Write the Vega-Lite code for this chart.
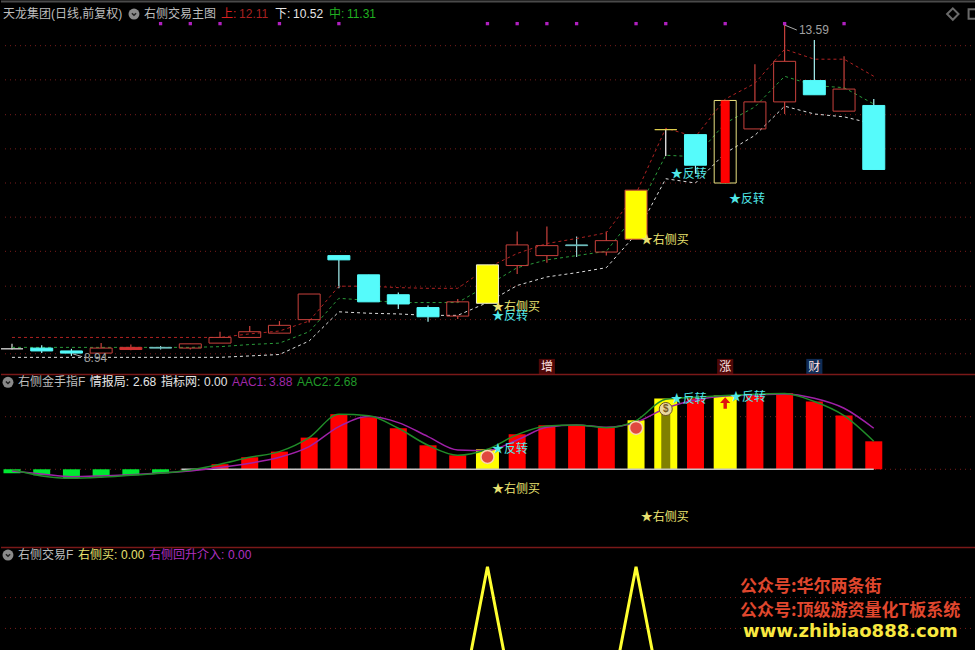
{
"$schema":"https://vega.github.io/schema/vega-lite/v6.json",
"background":"#000000","padding":0,"spacing":0,"bounds":"flush","autosize":{"type":"pad"},
"config":{"view":{"stroke":null},"concat":{"spacing":0}},
"datasets":{
"bars":[
{"i":0,"o":9.04,"h":9.11,"l":9.03,"c":9.04,"k":"doji","u":9.2,"m":9.06,"d":8.92,"hist":-0.38,"a1":-0.16,"a2":-0.03,"hk":"g","sig":0},
{"i":1,"o":9.05,"h":9.09,"l":8.98,"c":9.01,"k":"down","u":9.2,"m":9.06,"d":8.92,"hist":-0.57,"a1":-0.44,"a2":-0.63,"hk":"g","sig":0},
{"i":2,"o":9.01,"h":9.04,"l":8.94,"c":8.98,"k":"down","u":9.2,"m":9.06,"d":8.92,"hist":-0.83,"a1":-0.7,"a2":-0.86,"hk":"g","sig":0},
{"i":3,"o":8.98,"h":9.12,"l":8.98,"c":9.05,"k":"up","u":9.2,"m":9.06,"d":8.92,"hist":-0.67,"a1":-0.63,"a2":-0.76,"hk":"g","sig":0},
{"i":4,"o":9.03,"h":9.1,"l":9.02,"c":9.06,"k":"upsolid","u":9.2,"m":9.06,"d":8.92,"hist":-0.57,"a1":-0.51,"a2":-0.57,"hk":"g","sig":0},
{"i":5,"o":9.06,"h":9.08,"l":9.03,"c":9.05,"k":"dojic","u":9.2,"m":9.06,"d":8.92,"hist":-0.38,"a1":-0.35,"a2":-0.38,"hk":"g","sig":0},
{"i":6,"o":9.05,"h":9.11,"l":9.03,"c":9.11,"k":"up","u":9.2,"m":9.06,"d":8.92,"hist":-0.1,"a1":-0.16,"a2":-0.06,"hk":"g","sig":0},
{"i":7,"o":9.12,"h":9.28,"l":9.12,"c":9.2,"k":"up","u":9.2,"m":9.07,"d":8.92,"hist":0.48,"a1":0.16,"a2":0.48,"hk":"r","sig":0},
{"i":8,"o":9.2,"h":9.36,"l":9.2,"c":9.28,"k":"up","u":9.25,"m":9.1,"d":8.94,"hist":1.14,"a1":0.57,"a2":1.14,"hk":"r","sig":0},
{"i":9,"o":9.26,"h":9.43,"l":9.26,"c":9.37,"k":"up","u":9.29,"m":9.12,"d":8.96,"hist":1.68,"a1":1.14,"a2":1.68,"hk":"r","sig":0},
{"i":10,"o":9.45,"h":9.81,"l":9.41,"c":9.81,"k":"up","u":9.43,"m":9.28,"d":9.15,"hist":3.01,"a1":2.16,"a2":3.01,"hk":"r","sig":0},
{"i":11,"o":10.35,"h":10.35,"l":9.89,"c":10.29,"k":"down","u":9.92,"m":9.75,"d":9.56,"hist":5.23,"a1":4.06,"a2":5.23,"hk":"r","sig":0},
{"i":12,"o":10.08,"h":10.08,"l":9.7,"c":9.7,"k":"down","u":9.92,"m":9.72,"d":9.54,"hist":4.95,"a1":5.01,"a2":5.1,"hk":"r","sig":0},
{"i":13,"o":9.8,"h":9.83,"l":9.6,"c":9.67,"k":"down","u":9.9,"m":9.69,"d":9.53,"hist":3.9,"a1":4.44,"a2":3.9,"hk":"r","sig":0},
{"i":14,"o":9.62,"h":9.65,"l":9.42,"c":9.49,"k":"down","u":9.89,"m":9.69,"d":9.51,"hist":2.28,"a1":3.11,"a2":2.28,"hk":"r","sig":0},
{"i":15,"o":9.5,"h":9.74,"l":9.46,"c":9.7,"k":"up","u":9.89,"m":9.69,"d":9.51,"hist":1.33,"a1":1.84,"a2":1.33,"hk":"r","sig":0},
{"i":16,"o":9.68,"h":10.22,"l":9.68,"c":10.22,"k":"yellow","u":10.18,"m":9.93,"d":9.69,"hist":1.9,"a1":1.78,"a2":1.9,"hk":"yw","sig":1},
{"i":17,"o":10.21,"h":10.69,"l":10.09,"c":10.5,"k":"up","u":10.38,"m":10.18,"d":9.93,"hist":3.33,"a1":2.79,"a2":3.3,"hk":"r","sig":0},
{"i":18,"o":10.35,"h":10.76,"l":10.25,"c":10.49,"k":"up","u":10.52,"m":10.29,"d":10.05,"hist":4.18,"a1":3.99,"a2":4.12,"hk":"r","sig":0},
{"i":19,"o":10.5,"h":10.62,"l":10.33,"c":10.49,"k":"dojic","u":10.59,"m":10.35,"d":10.11,"hist":4.18,"a1":4.22,"a2":4.22,"hk":"r","sig":0},
{"i":20,"o":10.4,"h":10.69,"l":10.35,"c":10.56,"k":"up","u":10.67,"m":10.41,"d":10.18,"hist":3.97,"a1":3.99,"a2":3.96,"hk":"r","sig":0},
{"i":21,"o":10.58,"h":11.27,"l":10.58,"c":11.27,"k":"yellowr","u":11.22,"m":10.94,"d":10.65,"hist":4.66,"a1":4.47,"a2":4.63,"hk":"y","sig":1},
{"i":22,"o":12.12,"h":12.12,"l":11.75,"c":12.12,"k":"dojiy","u":12.14,"m":11.76,"d":11.43,"hist":6.72,"a1":5.8,"a2":6.66,"hk":"yw","sig":0},
{"i":23,"o":12.05,"h":12.05,"l":11.5,"c":11.62,"k":"down","u":12.02,"m":11.74,"d":11.37,"hist":6.75,"a1":6.59,"a2":6.85,"hk":"r","sig":0},
{"i":24,"o":11.37,"h":12.53,"l":11.37,"c":12.53,"k":"hold","u":12.55,"m":12.21,"d":11.79,"hist":7.01,"a1":6.97,"a2":7.01,"hk":"yw","sig":0},
{"i":25,"o":12.13,"h":13.04,"l":12.13,"c":12.51,"k":"up","u":12.77,"m":12.44,"d":12.04,"hist":7.04,"a1":7.07,"a2":7.13,"hk":"r","sig":0},
{"i":26,"o":12.51,"h":13.59,"l":12.34,"c":13.08,"k":"up","u":13.25,"m":12.87,"d":12.45,"hist":7.23,"a1":7.16,"a2":7.2,"hk":"r","sig":0},
{"i":27,"o":12.81,"h":13.38,"l":12.61,"c":12.61,"k":"down","u":13.11,"m":12.74,"d":12.34,"hist":6.44,"a1":6.75,"a2":6.44,"hk":"r","sig":0},
{"i":28,"o":12.38,"h":13.15,"l":12.38,"c":12.69,"k":"up","u":13.11,"m":12.71,"d":12.3,"hist":5.11,"a1":5.8,"a2":5.1,"hk":"r","sig":0},
{"i":29,"o":12.46,"h":12.55,"l":11.56,"c":11.56,"k":"down","u":12.87,"m":12.48,"d":12.2,"hist":2.66,"a1":3.9,"a2":2.66,"hk":"r","sig":0}
],
"topText":[
{"i":-0.303,"p":13.745,"t":"天龙集团(日线,前复权)","r":"gray"},
{"i":4.44,"p":13.745,"t":"右侧交易主图","r":"gray"},
{"i":7.03,"p":13.745,"t":"上:","r":"red"},
{"i":7.64,"p":13.745,"t":"12.11","r":"dred"},
{"i":8.85,"p":13.745,"t":"下:","r":"white"},
{"i":9.46,"p":13.745,"t":"10.52","r":"white"},
{"i":10.67,"p":13.745,"t":"中:","r":"green"},
{"i":11.27,"p":13.745,"t":"11.31","r":"green"},
{"i":16.15,"p":9.63,"t":"★右侧买","r":"yellow"},
{"i":16.15,"p":9.5,"t":"★反转","r":"cyan"},
{"i":21.16,"p":10.57,"t":"★右侧买","r":"yellow"},
{"i":22.17,"p":11.5,"t":"★反转","r":"cyan"},
{"i":24.13,"p":11.15,"t":"★反转","r":"cyan"},
{"i":26.48,"p":13.52,"t":"13.59","r":"dim"},
{"i":2.42,"p":8.91,"t":"8.94","r":"dim"}
],
"markers":[{"i":5},{"i":6},{"i":7},{"i":9},{"i":11},{"i":16},{"i":17},{"i":18},{"i":19},{"i":21},{"i":22},{"i":24},{"i":26},{"i":28}],
"tags":[{"i":18,"t":"增","r":"red"},{"i":24,"t":"涨","r":"red"},{"i":27,"t":"财","r":"blue"}],
"leaders":[{"s":"hi","i":26,"p":13.59},{"s":"hi","i":26.41,"p":13.52},{"s":"lo","i":2.04,"p":8.97},{"s":"lo","i":2.36,"p":8.93}],
"midText":[
{"i":0.2,"p":8.27,"t":"右侧金手指F","r":"gray"},
{"i":2.62,"p":8.27,"t":"情报局:","r":"white"},
{"i":4.07,"p":8.27,"t":"2.68","r":"white"},
{"i":5.01,"p":8.27,"t":"指标网:","r":"white"},
{"i":6.46,"p":8.27,"t":"0.00","r":"white"},
{"i":7.4,"p":8.27,"t":"AAC1:","r":"purple"},
{"i":8.65,"p":8.27,"t":"3.88","r":"purple"},
{"i":9.59,"p":8.27,"t":"AAC2:","r":"green2"},
{"i":10.83,"p":8.27,"t":"2.68","r":"green2"},
{"i":16.15,"p":1.9,"t":"★反转","r":"cyan"},
{"i":22.17,"p":6.69,"t":"★反转","r":"cyan"},
{"i":24.16,"p":6.88,"t":"★反转","r":"cyan"},
{"i":16.15,"p":-1.84,"t":"★右侧买","r":"yellow"},
{"i":21.16,"p":-4.51,"t":"★右侧买","r":"yellow"}
],
"botText":[
{"i":0.2,"p":1.076,"t":"右侧交易F","r":"gray"},
{"i":2.22,"p":1.076,"t":"右侧买:","r":"yellow"},
{"i":3.67,"p":1.076,"t":"0.00","r":"yellow"},
{"i":4.61,"p":1.076,"t":"右侧回升介入:","r":"magenta"},
{"i":7.27,"p":1.076,"t":"0.00","r":"magenta"}
],
"marks":[
{"i":24.5,"p":0.868,"t":"公众号:华尔两条街","r":"orange"},
{"i":24.5,"p":0.713,"t":"公众号:顶级游资量化T板系统","r":"orange"}
]
},
"vconcat":[
{"width":975,"height":374,
"resolve":{"scale":{"color":"independent","fill":"independent","stroke":"independent"}},
"layer":[
{"data":{"values":[{"g":13.3},{"g":12.82},{"g":12.33},{"g":11.85},{"g":11.37},{"g":10.89},{"g":10.41},{"g":9.92},{"g":9.45},{"g":8.97}]},
 "mark":{"type":"rule","color":"#7a1c1c","strokeWidth":1,"strokeDash":[1,4]},
 "encoding":{"y":{"field":"g","type":"quantitative","scale":{"domain":[8.686,13.942],"nice":false,"zero":false},"axis":null}}},
{"data":{"values":[{"g":13.92}]},"mark":{"type":"rule","color":"#4a4a4a","strokeWidth":2},
 "encoding":{"y":{"field":"g","type":"quantitative","scale":{"domain":[8.686,13.942],"nice":false,"zero":false},"axis":null}}},
{"data":{"name":"bars"},"mark":{"type":"rule","strokeWidth":1.2},
 "encoding":{"x":{"field":"i","type":"quantitative","scale":{"domain":[-0.37,32.44],"nice":false,"zero":false,"padding":0},"axis":null},
  "y":{"field":"l","type":"quantitative","scale":{"domain":[8.686,13.942],"nice":false,"zero":false},"axis":null},"y2":{"field":"h"},
  "color":{"field":"k","type":"nominal","legend":null,"scale":{"domain":["up","upsolid","down","yellow","yellowr","hold","doji","dojic","dojiy"],"range":["#c8413c","#c8413c","#a8f4f4","#c8413c","#c8413c","#e8e080","#e0e0e0","#9ad0d0","#ffffff"]}}}},
{"data":{"name":"bars"},"mark":{"type":"bar","size":23,"color":"#000000"},
 "encoding":{"x":{"field":"i","type":"quantitative","scale":{"domain":[-0.37,32.44],"nice":false,"zero":false,"padding":0},"axis":null},
  "y":{"field":"o","type":"quantitative","scale":{"domain":[8.686,13.942],"nice":false,"zero":false},"axis":null},"y2":{"field":"c"}}},
{"data":{"name":"bars"},"mark":{"type":"line","color":"#b02222","strokeWidth":1,"strokeDash":[3,3]},
 "encoding":{"x":{"field":"i","type":"quantitative","scale":{"domain":[-0.37,32.44],"nice":false,"zero":false,"padding":0},"axis":null},
  "y":{"field":"u","type":"quantitative","scale":{"domain":[8.686,13.942],"nice":false,"zero":false},"axis":null}}},
{"data":{"name":"bars"},"mark":{"type":"line","color":"#2a9a3a","strokeWidth":1,"strokeDash":[3,3]},
 "encoding":{"x":{"field":"i","type":"quantitative","scale":{"domain":[-0.37,32.44],"nice":false,"zero":false,"padding":0},"axis":null},
  "y":{"field":"m","type":"quantitative","scale":{"domain":[8.686,13.942],"nice":false,"zero":false},"axis":null}}},
{"data":{"name":"bars"},"mark":{"type":"line","color":"#dcdcdc","strokeWidth":1,"strokeDash":[3,3]},
 "encoding":{"x":{"field":"i","type":"quantitative","scale":{"domain":[-0.37,32.44],"nice":false,"zero":false,"padding":0},"axis":null},
  "y":{"field":"d","type":"quantitative","scale":{"domain":[8.686,13.942],"nice":false,"zero":false},"axis":null}}},
{"data":{"name":"bars"},"mark":{"type":"bar","size":22,"strokeWidth":1},
 "encoding":{"x":{"field":"i","type":"quantitative","scale":{"domain":[-0.37,32.44],"nice":false,"zero":false,"padding":0},"axis":null},
  "y":{"field":"o","type":"quantitative","scale":{"domain":[8.686,13.942],"nice":false,"zero":false},"axis":null},"y2":{"field":"c"},
  "fill":{"field":"k","type":"nominal","legend":null,"scale":{"domain":["up","upsolid","down","yellow","yellowr","hold","doji","dojic","dojiy"],"range":["transparent","#d03030","#55fbfb","#ffff00","#ffff00","transparent","#c8c8c8","#70c0c0","#e0d050"]}},
  "stroke":{"field":"k","type":"nominal","legend":null,"scale":{"domain":["up","upsolid","down","yellow","yellowr","hold","doji","dojic","dojiy"],"range":["#c8413c","#d03030","#55fbfb","#f0f0d0","#c8413c","#e8e080","#c8c8c8","#70c0c0","#e0d050"]}}}},
{"data":{"name":"bars"},"transform":[{"filter":"datum.k === 'hold'"}],"mark":{"type":"bar","size":9,"color":"#ff0000"},
 "encoding":{"x":{"field":"i","type":"quantitative","scale":{"domain":[-0.37,32.44],"nice":false,"zero":false,"padding":0},"axis":null},
  "y":{"field":"o","type":"quantitative","scale":{"domain":[8.686,13.942],"nice":false,"zero":false},"axis":null},"y2":{"field":"c"}}},
{"data":{"name":"leaders"},"mark":{"type":"line","color":"#aaaaaa","strokeWidth":1},
 "encoding":{"x":{"field":"i","type":"quantitative","scale":{"domain":[-0.37,32.44],"nice":false,"zero":false,"padding":0},"axis":null},
  "y":{"field":"p","type":"quantitative","scale":{"domain":[8.686,13.942],"nice":false,"zero":false},"axis":null},"detail":{"field":"s"}}},
{"data":{"name":"markers"},"mark":{"type":"point","shape":"square","filled":true,"color":"#b020c0","size":11,"opacity":1},
 "encoding":{"x":{"field":"i","type":"quantitative","scale":{"domain":[-0.37,32.44],"nice":false,"zero":false,"padding":0},"axis":null},
  "y":{"datum":13.61,"type":"quantitative","scale":{"domain":[8.686,13.942],"nice":false,"zero":false},"axis":null}}},
{"data":{"name":"tags"},"mark":{"type":"point","shape":"square","filled":true,"size":260,"opacity":1},
 "encoding":{"x":{"field":"i","type":"quantitative","scale":{"domain":[-0.37,32.44],"nice":false,"zero":false,"padding":0},"axis":null},
  "y":{"datum":8.785,"type":"quantitative","scale":{"domain":[8.686,13.942],"nice":false,"zero":false},"axis":null},
  "color":{"field":"r","type":"nominal","legend":null,"scale":{"domain":["red","blue"],"range":["#4e0808","#0f2c55"]}}}},
{"data":{"name":"tags"},"mark":{"type":"text","font":"Noto Sans CJK SC","fontSize":12,"color":"#ffe0e0","baseline":"middle"},
 "encoding":{"x":{"field":"i","type":"quantitative","scale":{"domain":[-0.37,32.44],"nice":false,"zero":false,"padding":0},"axis":null},
  "y":{"datum":8.785,"type":"quantitative","scale":{"domain":[8.686,13.942],"nice":false,"zero":false},"axis":null},"text":{"field":"t"}}},
{"data":{"values":[{"i":4.105}]},"mark":{"type":"point","shape":"circle","filled":true,"color":"#8a8a8a","size":120,"opacity":1},
 "encoding":{"x":{"field":"i","type":"quantitative","scale":{"domain":[-0.37,32.44],"nice":false,"zero":false,"padding":0},"axis":null},
  "y":{"datum":13.745,"type":"quantitative","scale":{"domain":[8.686,13.942],"nice":false,"zero":false},"axis":null}}},
{"data":{"values":[{"i":4.105}]},"mark":{"type":"point","shape":"M-0.5,-0.2L0,0.3L0.5,-0.2","filled":false,"color":"#222222","strokeWidth":1.5,"size":70,"opacity":1},
 "encoding":{"x":{"field":"i","type":"quantitative","scale":{"domain":[-0.37,32.44],"nice":false,"zero":false,"padding":0},"axis":null},
  "y":{"datum":13.745,"type":"quantitative","scale":{"domain":[8.686,13.942],"nice":false,"zero":false},"axis":null}}},
{"data":{"values":[{"i":31.66}]},"mark":{"type":"point","shape":"diamond","filled":false,"color":"#6a6a6a","size":130,"opacity":1},
 "encoding":{"x":{"field":"i","type":"quantitative","scale":{"domain":[-0.37,32.44],"nice":false,"zero":false,"padding":0},"axis":null},
  "y":{"datum":13.745,"type":"quantitative","scale":{"domain":[8.686,13.942],"nice":false,"zero":false},"axis":null}}},
{"data":{"values":[{"i":32.35}]},"mark":{"type":"point","shape":"square","filled":false,"color":"#6a6a6a","size":90,"opacity":1},
 "encoding":{"x":{"field":"i","type":"quantitative","scale":{"domain":[-0.37,32.44],"nice":false,"zero":false,"padding":0},"axis":null},
  "y":{"datum":13.745,"type":"quantitative","scale":{"domain":[8.686,13.942],"nice":false,"zero":false},"axis":null}}},
{"data":{"name":"topText"},"mark":{"type":"text","font":"Liberation Sans, Noto Sans CJK SC","fontSize":12,"align":"left","baseline":"middle"},
 "encoding":{"x":{"field":"i","type":"quantitative","scale":{"domain":[-0.37,32.44],"nice":false,"zero":false,"padding":0},"axis":null},
  "y":{"field":"p","type":"quantitative","scale":{"domain":[8.686,13.942],"nice":false,"zero":false},"axis":null},"text":{"field":"t"},
  "color":{"field":"r","type":"nominal","legend":null,"scale":{"domain":["gray","red","dred","white","green","yellow","cyan","dim"],"range":["#bdbdbd","#d82020","#a82020","#e6e6e6","#20b020","#e8e070","#50e8e8","#a0a0a0"]}}}}
]},
{"width":975,"height":173,
"resolve":{"scale":{"color":"independent"}},
"layer":[
{"data":{"values":[{"g":5},{"g":0}]},"mark":{"type":"rule","color":"#7a1c1c","strokeWidth":1,"strokeDash":[1,4]},
 "encoding":{"y":{"field":"g","type":"quantitative","scale":{"domain":[-7.39,9.06],"nice":false,"zero":false},"axis":null}}},
{"data":{"values":[{"g":9.02}]},"mark":{"type":"rule","color":"#7a1818","strokeWidth":1.5},
 "encoding":{"y":{"field":"g","type":"quantitative","scale":{"domain":[-7.39,9.06],"nice":false,"zero":false},"axis":null}}},
{"data":{"name":"bars"},"transform":[{"filter":"datum.hk !== 'yw'"}],"mark":{"type":"bar","size":17},
 "encoding":{"x":{"field":"i","type":"quantitative","scale":{"domain":[-0.37,32.44],"nice":false,"zero":false,"padding":0},"axis":null},
  "y":{"field":"hist","type":"quantitative","scale":{"domain":[-7.39,9.06],"nice":false,"zero":false},"axis":null},"y2":{"datum":0},
  "color":{"field":"hk","type":"nominal","legend":null,"scale":{"domain":["g","r","y","yw"],"range":["#00e832","#ff0000","#ffff00","#ffff00"]}}}},
{"data":{"name":"bars"},"transform":[{"filter":"datum.hk === 'yw'"}],"mark":{"type":"bar","size":23,"color":"#ffff00"},
 "encoding":{"x":{"field":"i","type":"quantitative","scale":{"domain":[-0.37,32.44],"nice":false,"zero":false,"padding":0},"axis":null},
  "y":{"field":"hist","type":"quantitative","scale":{"domain":[-7.39,9.06],"nice":false,"zero":false},"axis":null},"y2":{"datum":0}}},
{"data":{"values":[{"i":22,"v":5.33}]},"mark":{"type":"bar","size":9,"color":"#808000"},
 "encoding":{"x":{"field":"i","type":"quantitative","scale":{"domain":[-0.37,32.44],"nice":false,"zero":false,"padding":0},"axis":null},
  "y":{"field":"v","type":"quantitative","scale":{"domain":[-7.39,9.06],"nice":false,"zero":false},"axis":null},"y2":{"datum":0}}},
{"data":{"values":[{"a":5.7,"b":29,"v":0}]},"mark":{"type":"rule","color":"#c4c4c4","strokeWidth":1.5},
 "encoding":{"x":{"field":"a","type":"quantitative","scale":{"domain":[-0.37,32.44],"nice":false,"zero":false,"padding":0},"axis":null},"x2":{"field":"b"},
  "y":{"field":"v","type":"quantitative","scale":{"domain":[-7.39,9.06],"nice":false,"zero":false},"axis":null}}},
{"data":{"name":"bars"},"mark":{"type":"line","color":"#a020a8","strokeWidth":1.5,"interpolate":"monotone"},
 "encoding":{"x":{"field":"i","type":"quantitative","scale":{"domain":[-0.37,32.44],"nice":false,"zero":false,"padding":0},"axis":null},
  "y":{"field":"a1","type":"quantitative","scale":{"domain":[-7.39,9.06],"nice":false,"zero":false},"axis":null}}},
{"data":{"name":"bars"},"mark":{"type":"line","color":"#208c28","strokeWidth":1.5,"interpolate":"monotone"},
 "encoding":{"x":{"field":"i","type":"quantitative","scale":{"domain":[-0.37,32.44],"nice":false,"zero":false,"padding":0},"axis":null},
  "y":{"field":"a2","type":"quantitative","scale":{"domain":[-7.39,9.06],"nice":false,"zero":false},"axis":null}}},
{"data":{"values":[{"i":16,"v":1.17},{"i":21,"v":3.93}]},"mark":{"type":"point","shape":"circle","filled":true,"color":"#e0483f","stroke":"#f8d8b0","strokeWidth":1.5,"size":170,"opacity":1},
 "encoding":{"x":{"field":"i","type":"quantitative","scale":{"domain":[-0.37,32.44],"nice":false,"zero":false,"padding":0},"axis":null},
  "y":{"field":"v","type":"quantitative","scale":{"domain":[-7.39,9.06],"nice":false,"zero":false},"axis":null}}},
{"data":{"values":[{"i":22,"v":5.73}]},"mark":{"type":"point","shape":"circle","filled":true,"color":"#e8d8a0","stroke":"#6a5020","strokeWidth":1,"size":170,"opacity":1},
 "encoding":{"x":{"field":"i","type":"quantitative","scale":{"domain":[-0.37,32.44],"nice":false,"zero":false,"padding":0},"axis":null},
  "y":{"field":"v","type":"quantitative","scale":{"domain":[-7.39,9.06],"nice":false,"zero":false},"axis":null}}},
{"data":{"values":[{"i":22,"v":5.73,"t":"$"}]},"mark":{"type":"text","font":"Liberation Sans","fontSize":10,"fontWeight":"bold","color":"#7a5a20","baseline":"middle"},
 "encoding":{"x":{"field":"i","type":"quantitative","scale":{"domain":[-0.37,32.44],"nice":false,"zero":false,"padding":0},"axis":null},
  "y":{"field":"v","type":"quantitative","scale":{"domain":[-7.39,9.06],"nice":false,"zero":false},"axis":null},"text":{"field":"t"}}},
{"data":{"values":[{"i":24,"v":6.3}]},"mark":{"type":"point","shape":"M0,-1L0.9,0L0.3,0L0.3,1L-0.3,1L-0.3,0L-0.9,0Z","filled":true,"color":"#e01010","size":130,"opacity":1},
 "encoding":{"x":{"field":"i","type":"quantitative","scale":{"domain":[-0.37,32.44],"nice":false,"zero":false,"padding":0},"axis":null},
  "y":{"field":"v","type":"quantitative","scale":{"domain":[-7.39,9.06],"nice":false,"zero":false},"axis":null}}},
{"data":{"values":[{"i":-0.135}]},"mark":{"type":"point","shape":"circle","filled":true,"color":"#8a8a8a","size":120,"opacity":1},
 "encoding":{"x":{"field":"i","type":"quantitative","scale":{"domain":[-0.37,32.44],"nice":false,"zero":false,"padding":0},"axis":null},
  "y":{"datum":8.27,"type":"quantitative","scale":{"domain":[-7.39,9.06],"nice":false,"zero":false},"axis":null}}},
{"data":{"values":[{"i":-0.135}]},"mark":{"type":"point","shape":"M-0.5,-0.2L0,0.3L0.5,-0.2","filled":false,"color":"#222222","strokeWidth":1.5,"size":70,"opacity":1},
 "encoding":{"x":{"field":"i","type":"quantitative","scale":{"domain":[-0.37,32.44],"nice":false,"zero":false,"padding":0},"axis":null},
  "y":{"datum":8.27,"type":"quantitative","scale":{"domain":[-7.39,9.06],"nice":false,"zero":false},"axis":null}}},
{"data":{"name":"midText"},"mark":{"type":"text","font":"Liberation Sans, Noto Sans CJK SC","fontSize":12,"align":"left","baseline":"middle"},
 "encoding":{"x":{"field":"i","type":"quantitative","scale":{"domain":[-0.37,32.44],"nice":false,"zero":false,"padding":0},"axis":null},
  "y":{"field":"p","type":"quantitative","scale":{"domain":[-7.39,9.06],"nice":false,"zero":false},"axis":null},"text":{"field":"t"},
  "color":{"field":"r","type":"nominal","legend":null,"scale":{"domain":["gray","white","purple","green2","yellow","cyan"],"range":["#bdbdbd","#e6e6e6","#a028a8","#209a28","#e8e070","#50e8e8"]}}}}
]},
{"width":975,"height":103,
"resolve":{"scale":{"color":"independent"}},
"layer":[
{"data":{"values":[{"g":0.8},{"g":0.6}]},"mark":{"type":"rule","color":"#7a1c1c","strokeWidth":1,"strokeDash":[1,4]},
 "encoding":{"y":{"field":"g","type":"quantitative","scale":{"domain":[0.46,1.128],"nice":false,"zero":false},"axis":null}}},
{"data":{"values":[{"g":1.125}]},"mark":{"type":"rule","color":"#7a1818","strokeWidth":1.5},
 "encoding":{"y":{"field":"g","type":"quantitative","scale":{"domain":[0.46,1.128],"nice":false,"zero":false},"axis":null}}},
{"data":{"name":"bars"},"mark":{"type":"line","color":"#ffff30","strokeWidth":3,"clip":true},
 "encoding":{"x":{"field":"i","type":"quantitative","scale":{"domain":[-0.37,32.44],"nice":false,"zero":false,"padding":0},"axis":null},
  "y":{"field":"sig","type":"quantitative","scale":{"domain":[0.46,1.128],"nice":false,"zero":false},"axis":null}}},
{"data":{"values":[{"i":-0.135}]},"mark":{"type":"point","shape":"circle","filled":true,"color":"#8a8a8a","size":120,"opacity":1},
 "encoding":{"x":{"field":"i","type":"quantitative","scale":{"domain":[-0.37,32.44],"nice":false,"zero":false,"padding":0},"axis":null},
  "y":{"datum":1.076,"type":"quantitative","scale":{"domain":[0.46,1.128],"nice":false,"zero":false},"axis":null}}},
{"data":{"values":[{"i":-0.135}]},"mark":{"type":"point","shape":"M-0.5,-0.2L0,0.3L0.5,-0.2","filled":false,"color":"#222222","strokeWidth":1.5,"size":70,"opacity":1},
 "encoding":{"x":{"field":"i","type":"quantitative","scale":{"domain":[-0.37,32.44],"nice":false,"zero":false,"padding":0},"axis":null},
  "y":{"datum":1.076,"type":"quantitative","scale":{"domain":[0.46,1.128],"nice":false,"zero":false},"axis":null}}},
{"data":{"name":"botText"},"mark":{"type":"text","font":"Liberation Sans, Noto Sans CJK SC","fontSize":12,"align":"left","baseline":"middle"},
 "encoding":{"x":{"field":"i","type":"quantitative","scale":{"domain":[-0.37,32.44],"nice":false,"zero":false,"padding":0},"axis":null},
  "y":{"field":"p","type":"quantitative","scale":{"domain":[0.46,1.128],"nice":false,"zero":false},"axis":null},"text":{"field":"t"},
  "color":{"field":"r","type":"nominal","legend":null,"scale":{"domain":["gray","yellow","magenta"],"range":["#bdbdbd","#e8e070","#b030c0"]}}}},
{"data":{"name":"marks"},"mark":{"type":"text","font":"Noto Sans CJK SC","fontWeight":"bold","fontSize":17,"align":"left","baseline":"middle","color":"#e0472e"},
 "encoding":{"x":{"field":"i","type":"quantitative","scale":{"domain":[-0.37,32.44],"nice":false,"zero":false,"padding":0},"axis":null},
  "y":{"field":"p","type":"quantitative","scale":{"domain":[0.46,1.128],"nice":false,"zero":false},"axis":null},"text":{"field":"t"}}},
{"data":{"values":[{"i":24.6,"p":0.577,"t":"www.zhibiao888.com"}]},"mark":{"type":"text","font":"DejaVu Sans","fontWeight":"bold","fontSize":18,"align":"left","baseline":"middle","color":"#f8e840"},
 "encoding":{"x":{"field":"i","type":"quantitative","scale":{"domain":[-0.37,32.44],"nice":false,"zero":false,"padding":0},"axis":null},
  "y":{"field":"p","type":"quantitative","scale":{"domain":[0.46,1.128],"nice":false,"zero":false},"axis":null},"text":{"field":"t"}}}
]}
]
}
